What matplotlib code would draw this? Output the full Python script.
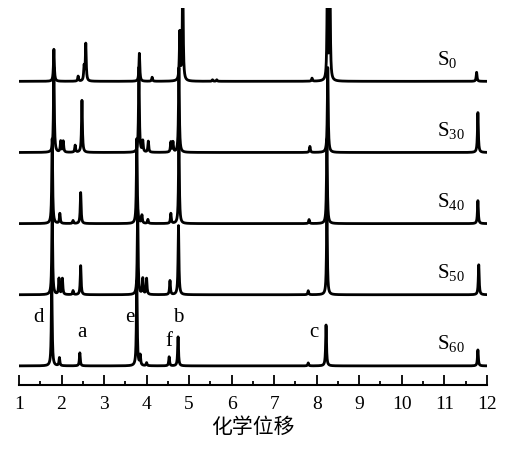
import numpy as np
import matplotlib
matplotlib.use('Agg')
import matplotlib.pyplot as plt
from matplotlib.ticker import MultipleLocator

plt.rcParams['font.family'] = ['Liberation Serif', 'Noto Sans CJK SC', 'DejaVu Sans']
plt.rcParams['mathtext.fontset'] = 'custom'
plt.rcParams['mathtext.rm'] = 'Liberation Serif'
plt.rcParams['mathtext.it'] = 'Liberation Serif:italic'

# 峰位置 (ppm) 與峰高 (任意單位)
s0_pos = [1.82, 2.39, 2.53, 2.57, 3.83, 4.13, 4.78, 4.85, 5.55, 5.65, 7.89, 8.25, 8.31, 11.76]
s0_amp = [32, 5, 14, 37, 28, 4, 48, 110, 1.5, 1.5, 3, 95, 110, 9]

s30_pos = [1.82, 1.98, 2.04, 2.32, 2.48, 3.82, 3.91, 4.04, 4.57, 4.62, 4.76, 7.84, 8.26, 11.79]
s30_amp = [85, 11, 11, 7, 52, 85, 11, 11, 10, 10, 85, 6, 85, 40]

s40_pos = [1.78, 1.96, 2.27, 2.45, 3.77, 3.89, 4.03, 4.57, 4.76, 7.82, 8.24, 11.79]
s40_amp = [85, 10, 3, 31, 85, 8, 4, 10, 85, 4, 85, 23]

s50_pos = [1.78, 1.94, 2.02, 2.27, 2.45, 3.79, 3.91, 4.00, 4.55, 4.75, 7.80, 8.24, 11.81]
s50_amp = [85, 16, 16, 4, 29, 85, 16, 16, 14, 69, 4, 85, 30]

s60_pos = [1.77, 1.95, 2.43, 3.77, 3.85, 4.00, 4.53, 4.74, 7.80, 8.22, 11.79]
s60_amp = [85, 8, 13, 85, 10, 3, 9, 29, 3, 41, 16]

sample_names = ['0', '30', '40', '50', '60']
offsets = [284, 213, 142, 71, 0]

peak_labels = ['d', 'a', 'e', 'b', 'f', 'c']
peak_label_x = [1.47, 2.48, 3.61, 4.74, 4.53, 7.93]
peak_label_y = [48, 33, 48, 48, 24, 33]

# 畫圖
fig = plt.figure(figsize=(5.28, 4.55), dpi=100)
ax = fig.add_axes([0.036, 0.154, 0.886, 0.828])

x = np.linspace(1, 12, 6000)
gamma = 0.012

all_pos = [s0_pos, s30_pos, s40_pos, s50_pos, s60_pos]
all_amp = [s0_amp, s30_amp, s40_amp, s50_amp, s60_amp]

for pos, amp, off, name in zip(all_pos, all_amp, offsets, sample_names):
    y = np.zeros_like(x)
    for p, a in zip(pos, amp):
        y += a * gamma**2 / ((x - p)**2 + gamma**2)
    ax.plot(x, y + off, color='black', lw=2.0)
    ax.text(10.82, off + 22, r'$\mathrm{S}_{' + name + '}$', fontsize=15,
            ha='left', va='center')

for lab, lx, ly in zip(peak_labels, peak_label_x, peak_label_y):
    ax.text(lx, ly, lab, fontsize=15, ha='center', va='center')

ax.set_xlim(1, 12)
ax.set_ylim(-19, 357)
for s in ['left', 'top', 'right']:
    ax.spines[s].set_visible(False)
ax.spines['bottom'].set_linewidth(1.5)
ax.set_yticks([])
ax.xaxis.set_major_locator(MultipleLocator(1))
ax.xaxis.set_minor_locator(MultipleLocator(0.5))
ax.tick_params(axis='x', which='major', direction='in', length=7, width=1.3,
               labelsize=14, pad=8)
ax.tick_params(axis='x', which='minor', direction='in', length=3, width=1.3)
ax.set_xlabel('化学位移', fontsize=15, family=['Noto Sans CJK SC'], labelpad=2)

fig.savefig('out.png', dpi=100)
